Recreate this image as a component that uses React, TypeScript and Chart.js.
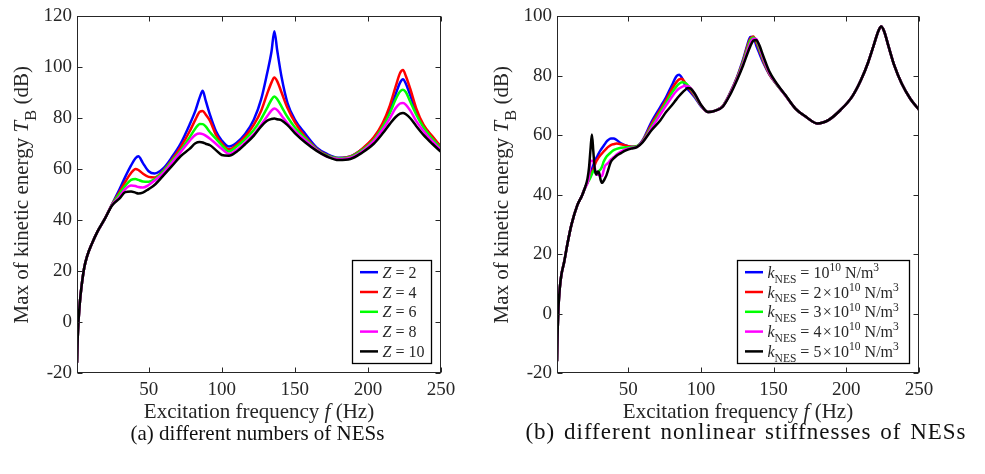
import React, { useEffect, useRef } from "react";
import { Chart, registerables } from "chart.js";
Chart.register(...registerables);

const FONT = "'Liberation Serif', 'Times New Roman', serif";
const TEXT_COLOR = "#262626";

// ---------- (a) different numbers of NESs ----------
const FREQ_A = [1, 1.5, 2, 3, 4, 6, 8, 11, 15, 20, 25, 30, 34, 38, 41, 43, 46, 50, 54, 60, 66, 72, 78, 82, 85, 87, 89, 92, 96, 100, 105, 110, 116, 122, 127, 131, 134, 136, 138, 141, 145, 150, 157, 165, 172, 180, 188, 196, 204, 210, 215, 219, 222, 224, 226, 229, 233, 238, 244, 250];
const A_Z2 = [-16, -6, 0, 8, 13.5, 21.5, 26, 30.5, 35.5, 40.5, 46.3, 52, 57, 61.5, 64.3, 65.1, 62.5, 59.2, 58.3, 60.3, 64.8, 70.2, 77.5, 83, 88.3, 90.8, 87, 81.3, 75, 71.3, 68.9, 70.3, 73.8, 79.5, 87.5, 97.5, 106, 114.2, 106.5, 96, 86, 79.5, 74, 68.5, 66, 64.5, 65, 67.8, 72, 77, 83, 89.5, 94, 95.3, 93.5, 89, 82.5, 77, 72.5, 68.8];
const A_Z4 = [-16, -6, 0, 8, 13.5, 21.5, 26, 30.5, 35.5, 40.5, 46.2, 51, 55, 58.5, 60.1, 59.7, 58.3, 57, 56.8, 59.5, 63.8, 68.8, 74.8, 79.5, 82.6, 82.9, 81.5, 79, 73.6, 70.3, 67.8, 69.5, 72.8, 77.5, 83, 89.5, 94, 96, 94.5, 90, 84, 78.5, 72.8, 68, 65.5, 64.3, 65, 68, 72.5, 78, 85, 92.5, 97.8, 99, 96.5, 91.5, 84, 77.5, 73, 68.8];
const A_Z6 = [-16, -6, 0, 8, 13.5, 21.5, 26, 30.5, 35.5, 40.5, 46.1, 50.3, 53.5, 55.8, 56.2, 55.8, 55.2, 55.1, 56, 59.2, 63.3, 67.5, 72.5, 76, 77.8, 77.7, 76.8, 74.5, 72, 69.5, 67, 68.8, 71.8, 75.5, 79.8, 84, 87.3, 88.6, 87.5, 84.5, 80.5, 76.5, 72.3, 67.8, 65.3, 64.3, 64.8, 67.5, 71.5, 76.5, 82, 87.5, 90.5, 91.2, 90.2, 86.5, 81.5, 76.5, 72, 68.2];
const A_Z8 = [-16, -6, 0, 8, 13.5, 21.5, 26, 30.5, 35.5, 40.5, 46, 49.2, 52.2, 53.6, 53.4, 53, 52.8, 53.8, 55.5, 58.5, 62.6, 66.8, 71.1, 73.5, 74, 73.8, 73.2, 72, 70, 68, 66, 67.5, 70.5, 73.8, 77.5, 80.7, 83, 83.8, 83.2, 81, 78, 75, 71.5, 67.5, 65, 64, 64.5, 67, 71, 75.5, 80, 84, 85.8, 86, 85.3, 83, 79, 75, 71, 67.5];
const A_Z10 = [-16, -6, 0, 8, 13.5, 21.5, 26, 30.5, 35.5, 40.5, 45.8, 48.5, 51, 51.3, 50.8, 50.5, 50.8, 52.2, 53.8, 57.5, 61.3, 65.2, 68, 70.2, 70.7, 70.5, 70, 69.4, 67.5, 65.6, 65.3, 66.8, 69.8, 73.2, 76.8, 79, 79.7, 79.9, 79.6, 79.2, 77.3, 74.2, 70.6, 67.2, 65, 63.6, 64, 66.5, 70, 74, 77.8, 80.5, 81.8, 82.1, 81.6, 80, 77, 73.5, 70, 66.8];
const LABELS_A = ["2", "4", "6", "8", "10"];

// ---------- (b) different nonlinear stiffnesses of NESs ----------
const FREQ_B = [1, 1.5, 2, 3, 4, 6, 8, 11, 15, 18, 20, 22, 23, 24, 25, 26, 27, 28, 29, 30, 31, 32, 33, 34, 35, 36, 38, 40, 42, 45, 48, 52, 56, 60, 66, 72, 76, 80, 83, 85, 87, 89, 91, 93, 96, 100, 105, 110, 115, 120, 125, 129, 132, 134, 136, 138, 140, 143, 147, 152, 158, 165, 172, 180, 188, 196, 204, 210, 215, 219, 222, 224, 226, 229, 233, 238, 244, 250];
const B_K1 = [-16, -5, 2, 9, 13, 17.5, 23, 30, 36.5, 39.5, 42, 44.3, 45.5, 47, 48.5, 50, 51.2, 52.3, 53.2, 54.2, 55, 55.7, 56.4, 57.1, 57.8, 58.3, 58.9, 58.9, 58.4, 57.3, 56.6, 56.1, 56.3, 58.4, 64.5, 69.5, 72.8, 76.8, 79.8, 80.4, 79.2, 77, 75.5, 74.4, 72.6, 69.8, 67.8, 68.3, 69.8, 74.2, 79.8, 85.5, 90.5, 93.1, 93.1, 90.3, 87.8, 84.3, 80.5, 77.2, 73.5, 69, 66.3, 64, 65.2, 68.5, 73, 78.5, 84.5, 90.5, 95, 96.6, 95, 90, 83.5, 77.5, 72.3, 68.6];
const B_K2 = [-16, -5, 2, 9, 13, 17.5, 23, 30, 36.5, 39.5, 42, 44.2, 45.2, 46.3, 47.5, 48.6, 50, 51.2, 52, 52.8, 53.4, 53.9, 54.5, 55, 55.5, 56, 56.7, 57, 57.2, 57, 56.6, 56.1, 56.3, 58.2, 63.7, 68.5, 71.8, 75.5, 77.8, 78.8, 79, 77.8, 76.3, 75, 73, 70, 67.8, 68.3, 69.8, 74.1, 79.6, 85, 90, 92.5, 93.2, 91.3, 88.8, 84.8, 80.6, 77.2, 73.5, 69, 66.3, 64, 65.2, 68.5, 73, 78.5, 84.5, 90.5, 95, 96.6, 95, 90, 83.5, 77.5, 72.3, 68.6];
const B_K3 = [-16, -5, 2, 9, 13, 17.5, 23, 30, 36.5, 39.5, 42, 44, 44.8, 45.8, 47, 48, 48.3, 46.8, 47.3, 48, 48.5, 49.5, 51, 52, 52.8, 53.3, 54.2, 55, 55.4, 55.8, 55.9, 56, 56.3, 58, 63, 67.8, 71, 74.3, 76.3, 77.3, 77.8, 77.7, 76.8, 75.6, 73.3, 70.1, 67.8, 68.3, 69.8, 74, 79.4, 84.6, 89.3, 92, 92.9, 92, 89.3, 85.3, 80.8, 77.2, 73.5, 69, 66.3, 64, 65.2, 68.5, 73, 78.5, 84.5, 90.5, 95, 96.6, 95, 90, 83.5, 77.5, 72.3, 68.6];
const B_K4 = [-16, -5, 2, 9, 13, 17.5, 23, 30, 36.5, 39.5, 42, 44, 46, 51.3, 51.4, 51.2, 49, 46.8, 46.7, 46.6, 46.4, 46.3, 48, 49.7, 50.2, 50.6, 51.8, 52.6, 53.5, 54.5, 55.2, 55.7, 56.1, 57.9, 62.4, 67, 70, 72.9, 74.8, 75.7, 76.3, 76.7, 76.5, 75.8, 73.6, 70.2, 67.8, 68.3, 69.7, 73.9, 79.2, 84, 88.5, 91, 92.5, 92.4, 90, 85.8, 81, 77.3, 73.5, 69, 66.3, 64, 65.2, 68.5, 73, 78.5, 84.5, 90.5, 95, 96.6, 95, 90, 83.5, 77.5, 72.3, 68.6];
const B_K5 = [-16, -5, 2, 9, 13, 17.5, 23, 30, 36.5, 39.5, 42, 45.5, 49, 55, 60.3, 54.5, 48.5, 46.8, 47.8, 47.3, 45, 44, 44.6, 45.5, 46.5, 48, 51, 52.2, 53.1, 54, 54.8, 55.5, 56, 57.7, 61.7, 65, 67.8, 70.1, 72, 73.2, 74.3, 75.2, 75.9, 75.7, 73.8, 70.3, 67.8, 68.3, 69.6, 73.6, 78.8, 83.5, 87.5, 90, 91.8, 92.1, 90.5, 86.5, 81.5, 77.5, 73.6, 69, 66.3, 64, 65.2, 68.5, 73, 78.5, 84.5, 90.5, 95, 96.6, 95, 90, 83.5, 77.5, 72.3, 68.6];
const LABELS_B = ["", "2\u200A\u00D7\u200A", "3\u200A\u00D7\u200A", "4\u200A\u00D7\u200A", "5\u200A\u00D7\u200A"];

const COLORS = ["#0000FF", "#FF0000", "#00FF00", "#FF00FF", "#000000"];
const X_TICKS = [50, 100, 150, 200, 250];
const Y_TICKS_A = [-20, 0, 20, 40, 60, 80, 100, 120];
const Y_TICKS_B = [-20, 0, 20, 40, 60, 80, 100];

type Seg = { t: string; it?: boolean; s?: number; dy?: number };

function drawRich(ctx: CanvasRenderingContext2D, segs: Seg[], x: number, y: number, size: number, align: "left" | "center") {
  const widths = segs.map((sg) => {
    ctx.font = `${sg.it ? "italic " : ""}${size * (sg.s ?? 1)}px ${FONT}`;
    return ctx.measureText(sg.t).width;
  });
  const total = widths.reduce((a, b) => a + b, 0);
  let cx = align === "center" ? x - total / 2 : x;
  ctx.textAlign = "left";
  ctx.textBaseline = "alphabetic";
  segs.forEach((sg, i) => {
    ctx.font = `${sg.it ? "italic " : ""}${size * (sg.s ?? 1)}px ${FONT}`;
    ctx.fillText(sg.t, cx, y + (sg.dy ?? 0) * size);
    cx += widths[i];
  });
}

const Y_TITLE: Seg[] = [
  { t: "Max of kinetic energy " },
  { t: "T", it: true },
  { t: "B", s: 0.8, dy: 0.38 },
  { t: " (dB)" },
];
const X_TITLE: Seg[] = [{ t: "Excitation frequency " }, { t: "f", it: true }, { t: " (Hz)" }];

function legendSegsA(i: number): Seg[] {
  return [{ t: "Z", it: true }, { t: " = " + LABELS_A[i] }];
}
function legendSegsB(i: number): Seg[] {
  return [
    { t: "k", it: true },
    { t: "NES", s: 0.72, dy: 0.3 },
    { t: " = " + LABELS_B[i] + "10" },
    { t: "10", s: 0.72, dy: -0.42 },
    { t: " N/m" },
    { t: "3", s: 0.72, dy: -0.42 },
  ];
}

function makePlugin(yTicks: number[], legendW: number, legendSegs: (i: number) => Seg[]) {
  return {
    id: "matlabFrame",
    afterDraw(chart: any) {
      const ctx: CanvasRenderingContext2D = chart.ctx;
      const { left, right, top, bottom } = chart.chartArea;
      const xs = chart.scales.x;
      const ys = chart.scales.y;
      ctx.save();
      ctx.strokeStyle = TEXT_COLOR;
      ctx.lineWidth = 1;
      const L = Math.round(left) + 0.5, R = Math.round(right) - 0.5, T = Math.round(top) + 0.5, B = Math.round(bottom) - 0.5;
      ctx.strokeRect(L, T, R - L, B - T);
      ctx.beginPath();
      X_TICKS.forEach((v) => {
        const px = Math.round(xs.getPixelForValue(v)) + 0.5;
        ctx.moveTo(px, B); ctx.lineTo(px, B - 5);
        ctx.moveTo(px, T); ctx.lineTo(px, T + 5);
      });
      yTicks.forEach((v) => {
        const py = Math.round(ys.getPixelForValue(v)) + 0.5;
        ctx.moveTo(L, py); ctx.lineTo(L + 5, py);
        ctx.moveTo(R, py); ctx.lineTo(R - 5, py);
      });
      ctx.stroke();
      ctx.fillStyle = TEXT_COLOR;
      ctx.save();
      ctx.translate(21, (top + bottom) / 2);
      ctx.rotate(-Math.PI / 2);
      drawRich(ctx, Y_TITLE, 0, 7, 21, "center");
      ctx.restore();
      drawRich(ctx, X_TITLE, (left + right) / 2, 418, 21, "center");
      const bx = Math.round(right - 10 - legendW) + 0.5;
      const by = Math.round(bottom - 113) + 0.5;
      const bh = 103;
      ctx.fillStyle = "#ffffff";
      ctx.fillRect(bx, by, legendW, bh);
      ctx.strokeStyle = "#000000";
      ctx.lineWidth = 1.3;
      ctx.strokeRect(bx, by, legendW, bh);
      for (let i = 0; i < 5; i++) {
        const ry = by + 11.7 + i * 19.8;
        ctx.strokeStyle = COLORS[i];
        ctx.lineWidth = 2.5;
        ctx.beginPath();
        ctx.moveTo(bx + 7.5, ry);
        ctx.lineTo(bx + 25.5, ry);
        ctx.stroke();
        ctx.fillStyle = TEXT_COLOR;
        drawRich(ctx, legendSegs(i), bx + 30, ry + 5.5, 16, "left");
      }
      ctx.restore();
    },
  };
}

function buildConfig(freq: number[], series: number[][], yMax: number, yTicks: number[], padRight: number, legendW: number, legendSegs: (i: number) => Seg[]) {
  const tickFont = { family: FONT, size: 19 };
  return {
    type: "line" as const,
    data: {
      datasets: series.map((vals, i) => ({
        data: freq.map((f, j) => ({ x: f, y: vals[j] })),
        borderColor: COLORS[i],
        borderWidth: 2.5,
        pointRadius: 0,
        fill: false,
        cubicInterpolationMode: "monotone" as const,
        order: series.length - i,
      })),
    },
    options: {
      animation: false as const,
      responsive: false,
      maintainAspectRatio: false,
      layout: { padding: { left: 27, right: padRight, top: 16, bottom: 71 } },
      plugins: { legend: { display: false }, tooltip: { enabled: false } },
      events: [],
      scales: {
        x: {
          type: "linear" as const,
          min: 1,
          max: 250,
          afterBuildTicks: (s: any) => { s.ticks = X_TICKS.map((v) => ({ value: v })); },
          afterFit: (s: any) => { s.height = 30; },
          grid: { display: false, drawTicks: false },
          border: { display: false },
          ticks: { font: tickFont, color: TEXT_COLOR, padding: 6, maxRotation: 0, autoSkip: false },
        },
        y: {
          type: "linear" as const,
          min: -20,
          max: yMax,
          afterBuildTicks: (s: any) => { s.ticks = yTicks.map((v) => ({ value: v })); },
          afterFit: (s: any) => { s.width = 50; },
          grid: { display: false, drawTicks: false },
          border: { display: false },
          ticks: { font: tickFont, color: TEXT_COLOR, padding: 5 },
        },
      },
    },
    plugins: [makePlugin(yTicks, legendW, legendSegs)],
  };
}

function ChartCanvas({ cfg, width, height }: { cfg: () => any; width: number; height: number }) {
  const ref = useRef<HTMLCanvasElement | null>(null);
  useEffect(() => {
    if (!ref.current) return;
    const chart = new Chart(ref.current, cfg());
    return () => chart.destroy();
  }, []);
  return <canvas ref={ref} width={width} height={height} style={{ width, height, display: "block" }} />;
}

export default function App() {
  const captionStyle: React.CSSProperties = {
    position: "absolute",
    top: 420,
    width: 600,
    textAlign: "center",
    fontFamily: FONT,
    fontSize: 21,
    lineHeight: "26px",
    color: "#111",
    whiteSpace: "nowrap",
  };
  return (
    <div style={{ position: "absolute", left: 0, top: 0, width: 985, height: 474, background: "#fff", overflow: "hidden" }}>
      <div style={{ position: "absolute", left: 0, top: 0 }}>
        <ChartCanvas
          width={480}
          height={474}
          cfg={() => buildConfig(FREQ_A, [A_Z2, A_Z4, A_Z6, A_Z8, A_Z10], 120, Y_TICKS_A, 39, 79, legendSegsA)}
        />
      </div>
      <div style={{ position: "absolute", left: 480, top: 0 }}>
        <ChartCanvas
          width={505}
          height={474}
          cfg={() => buildConfig(FREQ_B, [B_K1, B_K2, B_K3, B_K4, B_K5], 100, Y_TICKS_B, 66, 172, legendSegsB)}
        />
      </div>
      <div style={{ ...captionStyle, left: 257.5 - 300 }}>(a) different numbers of NESs</div>
      <div style={{ ...captionStyle, left: 746 - 300, fontSize: 23, top: 419, letterSpacing: "1px", wordSpacing: "2px" }}>(b) different nonlinear stiffnesses of NESs</div>
    </div>
  );
}
